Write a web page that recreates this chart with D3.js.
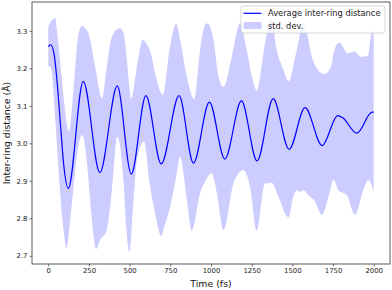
<!DOCTYPE html>
<html>
<head>
<meta charset="utf-8">
<script src="https://cdn.jsdelivr.net/npm/d3@7"></script>
<style>
html,body{margin:0;padding:0;background:#fff;}
svg{display:block;font-family:"DejaVu Sans",sans-serif;}
</style>
</head>
<body>
<svg id="chart" width="392" height="290"></svg>
<script>
// Mean inter-ring distance (time in fs, value in Å)
const meanTime = [0,14,35,55,76,96,123,215,317,424,510,600,694,804,892,990,1085,1187,1283,1382,1480,1578,1683,1779,1810,1896,1990,2000];
const meanVals = [3.258,3.263,3.240,3.160,3.044,2.938,2.880,3.165,2.922,3.153,2.918,3.127,2.945,3.127,2.947,3.110,2.958,3.113,2.953,3.119,2.984,3.095,2.994,3.074,3.068,3.027,3.083,3.083];

// Upper edge of std. dev. band
const upperTime = [0,12,43,55,76,96,127,158,178,205,246,288,330,360,381,418,438,463,483,510,545,581,600,630,661,704,745,786,810,851,897,933,964,978,1015,1046,1077,1128,1179,1220,1251,1281,1332,1367,1404,1445,1476,1527,1568,1625,1666,1697,1738,1758,1789,1840,1881,1922,1963,1984,2000];
const upperVals = [3.310,3.322,3.334,3.294,3.205,3.116,3.031,3.160,3.267,3.313,3.294,3.205,3.120,3.205,3.267,3.303,3.307,3.294,3.223,3.120,3.205,3.276,3.268,3.240,3.178,3.129,3.249,3.319,3.276,3.178,3.118,3.249,3.316,3.320,3.276,3.178,3.150,3.231,3.320,3.249,3.178,3.141,3.267,3.335,3.249,3.196,3.165,3.249,3.320,3.223,3.191,3.185,3.205,3.249,3.269,3.240,3.245,3.231,3.233,3.289,3.310];

// Lower edge of std. dev. band
const lowerTime = [0,12,25,35,55,76,96,111,137,168,188,209,240,266,295,319,360,391,424,463,479,498,524,545,588,626,657,694,710,749,790,810,852,882,933,964,1005,1036,1077,1138,1199,1240,1281,1332,1373,1414,1476,1506,1527,1547,1568,1598,1640,1680,1732,1752,1783,1834,1885,1936,1967,2000];
const lowerVals = [3.205,3.205,3.178,3.116,2.982,2.849,2.760,2.720,2.804,2.938,3.000,3.022,2.938,2.804,2.718,2.742,2.769,2.875,3.018,2.893,2.777,2.710,2.849,2.956,3.005,2.884,2.813,2.752,2.774,2.831,2.920,2.964,2.849,2.767,2.867,2.898,2.920,2.867,2.769,2.893,2.929,2.884,2.767,2.893,2.895,2.858,2.802,2.858,2.875,2.871,2.875,2.862,2.844,2.809,2.875,2.904,2.875,2.862,2.809,2.875,2.902,2.871];

const xTicks = [0,250,500,750,1000,1250,1500,1750,2000];
const yTicks = [2.7,2.8,2.9,3.0,3.1,3.2,3.3];
const xLabel = "Time (fs)";
const yLabel = "Inter-ring distance (Å)";
const legendLabels = ["Average inter-ring distance","std. dev."];

const svg = d3.select("#chart");
const L = 32, R = 390, T = 2, B = 264;
const x = d3.scaleLinear().domain([-100, 2100]).range([L, R]);
const y = d3.scaleLinear().domain([2.678, 3.377]).range([B, T]);

const meanData = meanTime.map((t,i)=>[t, meanVals[i]]);
const upperData = upperTime.map((t,i)=>[t, upperVals[i]]);
const lowerData = lowerTime.map((t,i)=>[t, lowerVals[i]]).reverse();

const lineGen = d3.line().x(d=>x(d[0])).y(d=>y(d[1])).curve(d3.curveMonotoneX);

svg.append("defs").append("clipPath").attr("id","clip")
  .append("rect").attr("x",L).attr("y",T).attr("width",R-L).attr("height",B-T);

const plot = svg.append("g").attr("clip-path","url(#clip)");

const bandPath = lineGen(upperData) + "L" + lineGen(lowerData).slice(1) + "Z";
plot.append("path").attr("d", bandPath)
  .attr("fill","#0000ff").attr("fill-opacity",0.2).attr("stroke","none");

plot.append("path").attr("d", lineGen(meanData))
  .attr("fill","none").attr("stroke","#0000ff").attr("stroke-width",1.2);

// axes
const xAxis = d3.axisBottom(x).tickValues(xTicks).tickSize(2.5).tickPadding(2).tickFormat(d3.format("d"));
const yAxis = d3.axisLeft(y).tickValues(yTicks).tickSize(2.5).tickPadding(2).tickFormat(d3.format(".1f"));

const gx = svg.append("g").attr("transform",`translate(0,${B})`).call(xAxis);
const gy = svg.append("g").attr("transform",`translate(${L},0)`).call(yAxis);
[gx,gy].forEach(g=>{
  g.select(".domain").remove();
  g.selectAll(".tick line").attr("stroke","#333").attr("stroke-width",0.7);
  g.selectAll(".tick text").attr("fill","#222").style("font-size","6.9px").style("font-family","DejaVu Sans");
});

// frame
svg.append("rect").attr("x",L).attr("y",T).attr("width",R-L).attr("height",B-T)
  .attr("fill","none").attr("stroke","#333").attr("stroke-width",0.8);

// labels
svg.append("text").attr("x",(L+R)/2).attr("y",286.5).attr("text-anchor","middle")
  .style("font-size","9.4px").attr("fill","#111").text(xLabel);
svg.append("text").attr("transform",`translate(10,${(T+B)/2}) rotate(-90)`).attr("text-anchor","middle")
  .style("font-size","9.4px").attr("fill","#111").text(yLabel);

// legend
const lg = svg.append("g");
lg.append("rect").attr("x",241).attr("y",6).attr("width",144).attr("height",27).attr("rx",2)
  .attr("fill","#fff").attr("fill-opacity",0.8).attr("stroke","#ccc").attr("stroke-width",0.8);
lg.append("line").attr("x1",243.5).attr("x2",261.5).attr("y1",13.3).attr("y2",13.3)
  .attr("stroke","#0000ff").attr("stroke-width",1.2);
lg.append("rect").attr("x",243.5).attr("y",22).attr("width",18).attr("height",7)
  .attr("fill","#0000ff").attr("fill-opacity",0.2);
lg.append("text").attr("x",268).attr("y",16.2).style("font-size","8.3px").attr("fill","#222").text(legendLabels[0]);
lg.append("text").attr("x",268).attr("y",28.6).style("font-size","8.3px").attr("fill","#222").text(legendLabels[1]);
</script>
</body>
</html>
